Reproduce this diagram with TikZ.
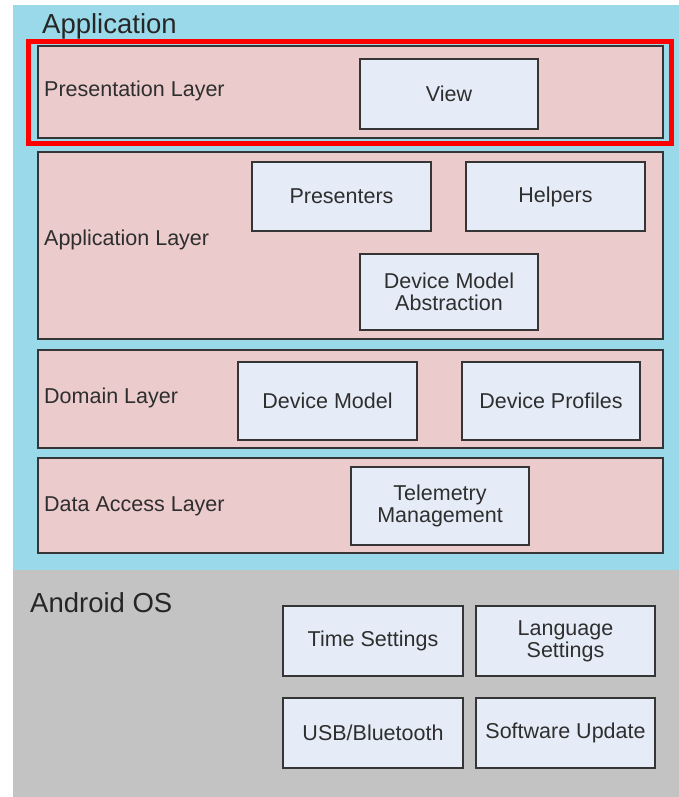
\documentclass[tikz,border=0pt]{standalone}
\usepackage{fontspec}
\setmainfont{Liberation Sans}
\definecolor{appblue}{HTML}{9AD9E9}
\definecolor{layerpink}{HTML}{EBCBCB}
\definecolor{boxfill}{HTML}{E6ECF7}
\definecolor{osgray}{HTML}{C3C3C3}
\definecolor{txt}{HTML}{2E2E2E}
\definecolor{edge}{HTML}{353535}
\begin{document}
\begin{tikzpicture}[x=1pt,y=-1pt,
  layerbox/.style={draw=edge,fill=layerpink,line width=1.5pt},
  compbox/.style={draw=edge,fill=boxfill,line width=1.3pt,align=center,text=txt,
     inner sep=0pt,font=\fontsize{21.5}{22}\selectfont},
  layerlabel/.style={anchor=west,inner sep=0pt,text=txt,font=\fontsize{21.5}{22}\selectfont},
  title/.style={anchor=west,inner sep=0pt,text=black!85,font=\fontsize{27.5}{28}\selectfont}]
\useasboundingbox (0,0) rectangle (679,797);
\fill[white] (0,0) rectangle (679,797);
% backgrounds
\fill[appblue] (12.5,5) rectangle (679,570);
\fill[osgray] (12.5,570) rectangle (679,797);
% layers
\draw[layerbox] (38,46) rectangle (663,138);
\draw[layerbox] (38,152) rectangle (663,339);
\draw[layerbox] (38,350) rectangle (663,448);
\draw[layerbox] (38,458) rectangle (663,553);
% red highlight
\draw[red,line width=5pt] (28.5,41.5) rectangle (671.5,143.5);
% titles
\node[title] (apptitle) at (42,26) {Application};
\node[title] (ostitle) at (30,603) {Android OS};
% layer labels
\node[layerlabel] (presl) at (44,91) {Presentation Layer};
\node[layerlabel] (appl) at (44,240) {Application Layer};
\node[layerlabel] (doml) at (44,398) {Domain Layer};
\node[layerlabel] (datal) at (44,506) {Data Access Layer};
% component boxes
\node[compbox,minimum width=178pt,minimum height=70pt] (view) at (449,94) {View};
\node[compbox,minimum width=179pt,minimum height=69pt] (presenters) at (341.5,196.5) {Presenters};
\node[compbox,minimum width=179pt,minimum height=69pt] (helpers) at (555.5,196.5) {Helpers};
\node[compbox,minimum width=178pt,minimum height=76pt] (dma) at (449,292) {Device Model\\Abstraction};
\node[compbox,minimum width=179pt,minimum height=78pt] (dm) at (327.5,401) {Device Model};
\node[compbox,minimum width=178pt,minimum height=78pt] (dp) at (551,401) {Device Profiles};
\node[compbox,minimum width=178pt,minimum height=78pt] (tm) at (440,506) {Telemetry\\Management};
\node[compbox,minimum width=180pt,minimum height=70pt] (ts) at (373,641) {Time Settings};
\node[compbox,minimum width=179pt,minimum height=70pt] (ls) at (565.5,641) {Language\\Settings};
\node[compbox,minimum width=180pt,minimum height=70pt] (usb) at (373,733) {USB/Bluetooth};
\node[compbox,minimum width=179pt,minimum height=70pt] (su) at (565.5,733) {Software Update};
\end{tikzpicture}
\end{document}
